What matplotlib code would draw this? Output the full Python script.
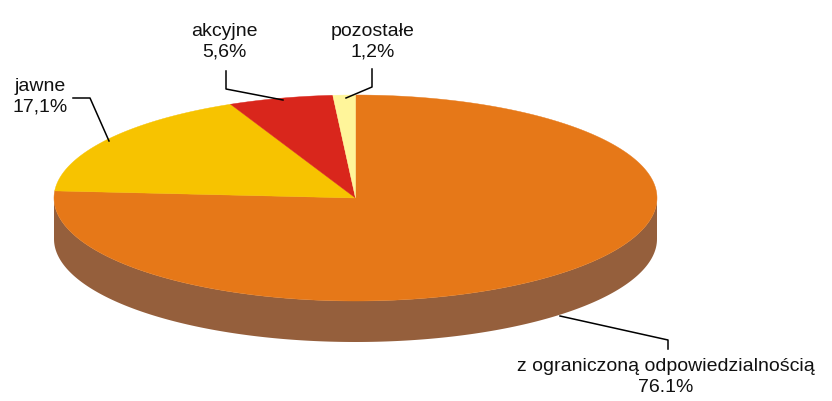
import numpy as np
import matplotlib.pyplot as plt
from matplotlib.patches import Polygon

plt.rcParams['font.family'] = ['Liberation Sans', 'DejaVu Sans']

# data
labels = ['z ograniczoną odpowiedzialnością', 'jawne', 'akcyjne', 'pozostałe']
values = [76.1, 17.1, 5.6, 1.2]
value_labels = ['76.1%', '17,1%', '5,6%', '1,2%']
colors = ['#E67818', '#F7C300', '#D9261C', '#FFF59A']
side_colors = ['#955F3C', '#A88A20', '#8A2A20', '#B0A870']

# geometry of the tilted pie (pixels)
cx, cy = 355.5, 198
rx, ry = 301.5, 103
depth = 41

fig = plt.figure(figsize=(8.32, 4.01), dpi=100)
ax = fig.add_axes([0, 0, 1, 1])
ax.set_xlim(0, 832)
ax.set_ylim(401, 0)
ax.axis('off')


def pt(theta_deg, dy=0):
    t = np.radians(theta_deg)
    return cx + rx * np.sin(t), cy - ry * np.cos(t) + dy


# slice angles, clockwise from 12 o'clock
bounds = np.concatenate([[0], np.cumsum(values) / sum(values) * 360])

# side walls (only front half visible: 90..270)
for i in range(len(values)):
    a0, a1 = max(bounds[i], 90), min(bounds[i + 1], 270)
    if a1 <= a0:
        continue
    th = np.linspace(a0, a1, 200)
    top = [pt(t) for t in th]
    bot = [pt(t, depth) for t in th[::-1]]
    ax.add_patch(Polygon(top + bot, closed=True, fc=side_colors[i], ec='none'))

# top faces
for i in range(len(values)):
    th = np.linspace(bounds[i], bounds[i + 1], 300)
    verts = [(cx, cy)] + [pt(t) for t in th]
    ax.add_patch(Polygon(verts, closed=True, fc=colors[i], ec=colors[i], lw=0.3))

# labels and leader lines
label_pos = [(666, 377), (40, 97), (224, 42), (373, 42)]
leaders = [
    [(560, 316), (668, 340), (668, 349)],
    [(73, 98), (90, 98), (109, 141)],
    [(226, 71), (226, 89), (283, 100)],
    [(372, 69), (372, 87), (346, 98)],
]
for i in range(len(values)):
    x, y = label_pos[i]
    ax.text(x, y, labels[i] + '\n' + value_labels[i], ha='center', va='center',
            fontsize=14, linespacing=1.25, color='#111111')
    xs, ys = zip(*leaders[i])
    ax.plot(xs, ys, color='black', lw=1.1)

fig.savefig('out.png', dpi=100, facecolor='white')
